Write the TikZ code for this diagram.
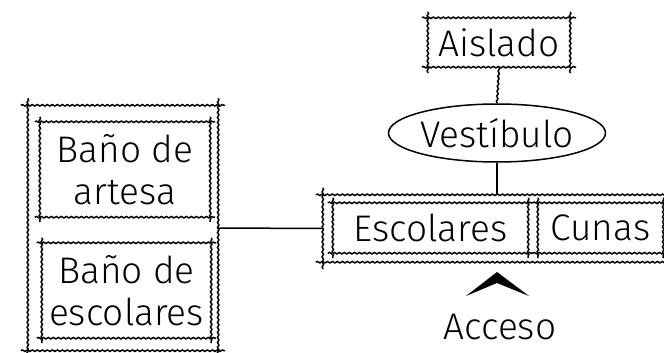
\documentclass[tikz,border=0pt]{standalone}
\usepackage{fontspec}
\setmainfont{Fira Sans Light}
\usetikzlibrary{calc, decorations.pathmorphing, shapes.geometric}
\tikzset{
  sketch/.style={line width=1.5pt, decorate, decoration={snake, segment length=5pt, amplitude=0.7pt}},
  plain/.style={line width=1.5pt},
  room/.style={inner sep=0pt, align=center},
  label/.style={font=\fontsize{37}{42}\selectfont}
}
% rough box with overshooting corners: \roughbox[overshoot]{node}
\newcommand\roughbox[2][6]{%
  \draw[sketch] ($(#2.north west)+(-#1,0)$) -- ($(#2.north east)+(#1,0)$);
  \draw[sketch] ($(#2.south west)+(-#1,0)$) -- ($(#2.south east)+(#1,0)$);
  \draw[sketch] ($(#2.north west)+(0,-#1)$) -- ($(#2.south west)+(0,#1)$);
  \draw[sketch] ($(#2.north east)+(0,-#1)$) -- ($(#2.south east)+(0,#1)$);
}

\begin{document}
\begin{tikzpicture}[x=1pt, y=-1pt, every node/.style={label}]
  \useasboundingbox (0,0) rectangle (664,353);

  % Left block
  \node[room, minimum width=190pt, minimum height=245pt] (banos) at (123,228) {};
  \node[room, minimum width=170pt, minimum height=95pt] (artesa) at (125,169.5) {Baño de\\artesa};
  \node[room, minimum width=169pt, minimum height=95pt] (escbano) at (126.5,290.5) {Baño de\\escolares};

  % Right block
  \node[room, minimum width=348pt, minimum height=67pt] (aulas) at (497,228.5) {};
  \node[room, minimum width=195pt, minimum height=50pt] (escolares) at (430.5,228) {Escolares};
  \node[room, minimum width=125pt, minimum height=50pt] (cunas) at (600.5,228) {Cunas};

  % Top
  \node[room, minimum width=142pt, minimum height=49pt] (aislado) at (499,42.5) {Aislado};
  \node[ellipse, draw, plain, inner sep=0pt, minimum width=161pt, minimum height=58pt] (vestibulo) at (497,133) {Vestíbulo};

  \node (acceso) at (500,327) {Acceso};

  % Boxes
  \roughbox[7]{banos}
  \roughbox[5]{artesa}
  \roughbox[5]{escbano}
  \roughbox[7]{aulas}
  \roughbox[5]{escolares}
  \roughbox[5]{cunas}
  \roughbox[6]{aislado}

  % Links
  \draw[sketch] (aislado.south) -- (vestibulo.north);
  \draw[plain] (vestibulo.south) -- (aulas.north);
  \draw[plain] (banos.east) -- (aulas.west);

  % Entry mark
  \fill (466,296) -- (497,272) -- (529,296) -- (497,283) -- cycle;
\end{tikzpicture}
\end{document}
